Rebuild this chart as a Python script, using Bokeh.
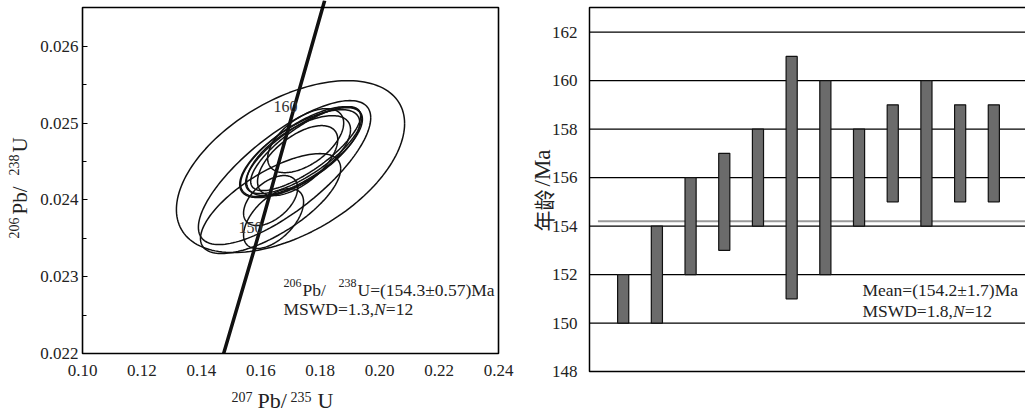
import numpy as np
from bokeh.plotting import figure
from bokeh.layouts import row
from bokeh.models import Label, FixedTicker, NumeralTickFormatter, BoxAnnotation
from bokeh.embed import file_html
from bokeh.resources import INLINE

# ---------------- data: concordia diagram ----------------
# ellipse centres (207Pb/235U, 206Pb/238U), half-extents, correlation
ell_cx = [0.1700, 0.1680, 0.1633, 0.1643, 0.1633, 0.1737, 0.1744, 0.1731, 0.1727, 0.1751, 0.1724, 0.1751]
ell_cy = [0.024435, 0.024357, 0.023953, 0.023758, 0.023992, 0.024630, 0.024643, 0.024604, 0.024578, 0.024669, 0.024513, 0.024773]
ell_hx = [0.0384, 0.0290, 0.0236, 0.0101, 0.0091, 0.0205, 0.0195, 0.0202, 0.0175, 0.0185, 0.0135, 0.0128]
ell_hy = [0.00112, 0.000938, 0.000651, 0.000391, 0.000326, 0.000586, 0.000560, 0.000573, 0.000521, 0.000547, 0.000456, 0.000417]
ell_rho = [0.50, 0.76, 0.70, 0.55, 0.50, 0.72, 0.75, 0.70, 0.65, 0.78, 0.60, 0.55]

concordia_x = [0.1475, 0.1592, 0.1707, 0.1815]
concordia_y = [0.02200, 0.02354, 0.02513, 0.02660]
age_marks = ["150", "160"]

x1_ticks = [0.10, 0.12, 0.14, 0.16, 0.18, 0.20, 0.22, 0.24]
y1_ticks = [0.022, 0.023, 0.024, 0.025, 0.026]
y1_minor = [0.0225, 0.0235, 0.0245, 0.0255]

# ---------------- data: weighted mean ages ----------------
spot = [1, 2, 3, 4, 5, 6, 7, 8, 9, 10, 11, 12]
age_low = [150, 150, 152, 153, 154, 151, 152, 154, 155, 154, 155, 155]
age_high = [152, 154, 156, 157, 158, 161, 160, 158, 159, 160, 159, 159]
mean_age = 154.2
y2_ticks = [148, 150, 152, 154, 156, 158, 160, 162]
y2_grid = [150, 152, 154, 156, 158, 160, 162]

SERIF = "Liberation Serif"
TXT = "#222222"
ROT = np.pi / 2


def lab(p, x, y, text, size, xoff=0, font=SERIF, style="normal", angle=0.0, align="left", color=TXT):
    p.add_layout(Label(x=x, y=y, text=text, x_offset=xoff, angle=angle,
                       text_font=font, text_font_size=size, text_font_style=style,
                       text_color=color, text_align=align, text_baseline="middle"))


# ---------------- left: concordia ----------------
# frame fills the figure; the plotted box is 0.10-0.24 x 0.022-0.0265
X1_MIN, X1_MAX, Y1_MIN, Y1_MAX, Y1_BOX = 0.0724, 0.24572, 0.021231, 0.026599, 0.026508
p1 = figure(width=515, height=412, x_range=(X1_MIN, X1_MAX), y_range=(Y1_MIN, Y1_MAX),
            output_backend="svg", toolbar_location=None,
            min_border_left=0, min_border_right=0, min_border_top=0, min_border_bottom=0)
p1.grid.visible = False
p1.outline_line_color = None
p1.add_layout(BoxAnnotation(left=x1_ticks[0], right=x1_ticks[-1], bottom=y1_ticks[0], top=Y1_BOX,
                            fill_alpha=0, line_color="black", line_width=1.6, line_alpha=1))

t = np.linspace(0, 2 * np.pi, 160)
xs, ys = [], []
for cx, cy, hx, hy, r in zip(ell_cx, ell_cy, ell_hx, ell_hy, ell_rho):
    xs.append(cx + hx * np.cos(t))
    ys.append(cy + hy * (r * np.cos(t) + np.sqrt(1 - r * r) * np.sin(t)))
p1.multi_line(xs, ys, line_color="#111111", line_width=1.5)
p1.line(concordia_x, concordia_y, line_color="#111111", line_width=3.5)

# concordia age marks
lab(p1, 0.160578, 0.0236417, age_marks[0], "16px", align="right", color="#333333")
lab(p1, 0.172356, 0.0252180, age_marks[1], "16px", align="right", color="#333333")

xa = p1.xaxis[0]
xa.fixed_location = y1_ticks[0]
xa.ticker = FixedTicker(ticks=x1_ticks)
xa.formatter = NumeralTickFormatter(format="0.00")
xa.major_tick_line_color = None
xa.minor_tick_line_color = None
xa.axis_line_color = None
xa.major_label_text_font = SERIF
xa.major_label_text_font_size = "17px"
xa.major_label_text_color = TXT
xa.major_label_standoff = 6

ya = p1.yaxis[0]
ya.fixed_location = x1_ticks[0]
ya.ticker = FixedTicker(ticks=y1_ticks, minor_ticks=y1_minor)
ya.formatter = NumeralTickFormatter(format="0.000")
ya.major_tick_in = 5
ya.major_tick_out = 0
ya.minor_tick_in = 4
ya.minor_tick_out = 0
ya.axis_line_color = None
ya.major_label_text_font = SERIF
ya.major_label_text_font_size = "17px"
ya.major_label_text_color = TXT
ya.major_label_standoff = 4

# x axis title  207Pb/235U
lab(p1, 0.150145, 0.021427, "207", "14px")
lab(p1, 0.158895, 0.021381, "Pb/", "22px")
lab(p1, 0.170001, 0.021427, "235", "14px")
lab(p1, 0.179088, 0.021381, "U", "22px")

# y axis title  206Pb/238U (rotated)
lab(p1, 0.076947, 0.0234984, "206", "14px", angle=ROT)
lab(p1, 0.078798, 0.0238111, "Pb/", "21px", angle=ROT)
lab(p1, 0.076947, 0.0243192, "238", "14px", angle=ROT)
lab(p1, 0.078798, 0.0246189, "U", "21px", angle=ROT)

# result annotation
lab(p1, 0.167645, 0.0229120, "206", "12px")
lab(p1, 0.174040, 0.0228208, "Pb/", "17.5px")
lab(p1, 0.186155, 0.0229120, "238", "12px")
lab(p1, 0.192549, 0.0228208, "U=(154.3±0.57)Ma", "17.5px")
lab(p1, 0.167645, 0.0225798, "MSWD=1.3,", "17.5px")
lab(p1, 0.167645, 0.0225798, "N", "17.5px", xoff=90.6, style="italic")
lab(p1, 0.167645, 0.0225798, "=12", "17.5px", xoff=102.3)

# ---------------- right: weighted mean ----------------
X2_MIN, X2_MAX, Y2_MIN, Y2_MAX, Y2_BOX = -2.196, 12.94, 146.309, 163.305, 163.02
p2 = figure(width=510, height=412, x_range=(X2_MIN, X2_MAX), y_range=(Y2_MIN, Y2_MAX),
            output_backend="svg", toolbar_location=None,
            min_border_left=0, min_border_right=0, min_border_top=0, min_border_bottom=0)
p2.outline_line_color = None
p2.grid.visible = False

# horizontal reference lines starting at the axis and running off to the right
p2.ray(x=0, y=y2_grid, length=0, angle=0, line_color="black", line_width=1.3)
p2.ray(x=0.25, y=mean_age, length=0, angle=0, line_color="#9a9a9a", line_width=2)
p2.add_layout(BoxAnnotation(left=0, right=X2_MAX + 2, bottom=y2_ticks[0], top=Y2_BOX,
                            fill_alpha=0, line_color="black", line_width=1.5, line_alpha=1))

p2.vbar(x=spot, bottom=age_low, top=age_high, width=0.33,
        fill_color="#6b6b6b", line_color="#111111", line_width=1.2)

p2.xaxis.visible = False
yb = p2.yaxis[0]
yb.fixed_location = 0
yb.ticker = FixedTicker(ticks=y2_ticks)
yb.major_tick_line_color = None
yb.minor_tick_line_color = None
yb.axis_line_color = None
yb.major_label_text_font = SERIF
yb.major_label_text_font_size = "17px"
yb.major_label_text_color = TXT
yb.major_label_standoff = 6

# y axis title 年龄/Ma (rotated)
lab(p2, -1.380, 153.776, "年龄", "21px", font="Noto Sans CJK SC", angle=ROT)
lab(p2, -1.380, 155.632, "/Ma", "23px", angle=ROT)

lab(p2, 8.10, 151.362, "Mean=(154.2±1.7)Ma", "17.5px")
lab(p2, 8.10, 150.496, "MSWD=1.8,", "17.5px")
lab(p2, 8.10, 150.496, "N", "17.5px", xoff=90.6, style="italic")
lab(p2, 8.10, 150.496, "=12", "17.5px", xoff=102.3)

layout = row(p1, p2)
open("out.html", "w").write(file_html(layout, INLINE))
